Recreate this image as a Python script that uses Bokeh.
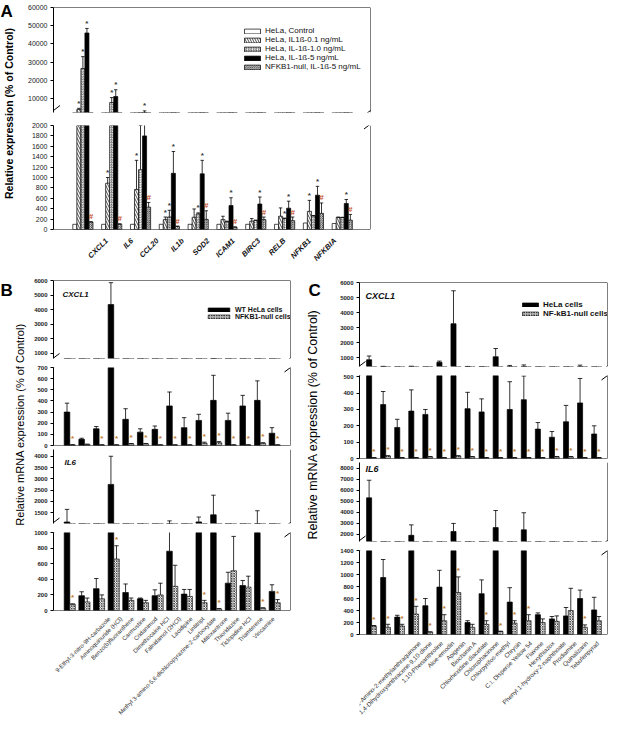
from math import pi
from bokeh.plotting import figure
from bokeh.layouts import row, column
from bokeh.models import (Span, Label, Arrow, Legend, LegendItem, FixedTicker)
from bokeh.core.properties import value
from bokeh.embed import file_html
from bokeh.resources import INLINE

FONT = "Liberation Sans"
MARK_BC = "#c27a30"
MARK_A_STAR = "#3a3a3a"
MARK_A_HASH = "#c4502a"

# ---------------- Panel A data ----------------
genes_A = ["CXCL1", "IL6", "CCL20", "IL1b", "SOD2", "ICAM1", "BIRC3", "RELB", "NFKB1", "NFKBIA"]
series_A = ["HeLa, Control", "HeLa, IL1\u00df-0.1 ng/mL", "HeLa, IL-1\u00df-1.0 ng/mL",
            "HeLa, IL-1\u00df-5 ng/mL", "NFKB1-null, IL-1\u00df-5 ng/mL"]
ctrl_A = [100, 100, 100, 100, 100, 100, 100, 100, 125, 115]
ctrl_err_A = [100, 100, 100, 100, 100, 100, 100, 100, 125, 115]
il01_A = [4000, 890, 770, 190, 235, 190, 160, 255, 350, 230]
il01_err_A = [4600, 1000, 1330, 240, 395, 255, 210, 415, 560, 240]
il10_A = [26500, 7800, 1150, 240, 300, 150, 175, 210, 260, 230]
il10_err_A = [33000, 10500, 2000, 370, 320, 160, 180, 220, 270, 235]
il5_A = [46000, 11100, 1800, 1080, 1070, 460, 490, 410, 660, 500]
il5_err_A = [48500, 14800, 3200, 1500, 1330, 610, 625, 545, 830, 577]
null_A = [145, 100, 430, 60, 195, 45, 190, 170, 310, 180]
null_err_A = [150, 110, 520, 65, 360, 50, 240, 240, 510, 290]
marks_ctrl_A = ["", "", "", "", "", "", "", "", "", ""]
marks_01_A = ["*", "*", "*", "*", "", "", "", "", "*", ""]
marks_10_A = ["*", "*", "*", "*", "*", "", "", "*", "", ""]
marks_5_A = ["*", "*", "*", "*", "*", "*", "*", "*", "*", "*"]
marks_null_A = ["#", "#", "#", "#", "#", "#", "#", "#", "#", "#"]
yticks_A_top = [10000, 20000, 30000, 40000, 50000, 60000]
yticks_A_bot = [0, 200, 400, 600, 800, 1000, 1200, 1400, 1600, 1800, 2000]

# ---------------- Panel B data ----------------
compounds_B = ["9-Ethyl-3-nitro-9H-carbazole", "Aminoquinuride (HCl)", "Benzo(b)fluoranthene",
               "Carmustine", "Cridanimod", "Dimethocaine HCl", "Falnidamol (2HCl)", "Lacidipine",
               "Lintitript", "Methyl 3-amino-5,6-dichloropyrazine-2-carboxylate", "Mitoxantrone",
               "Thioridazine", "Ticlopidine HCl", "Triamterene", "Vincamine"]
b_cxcl1_wt = [300, 55, 150, 4350, 235, 120, 145, 355, 160, 225, 405, 225, 355, 405, 110]
b_cxcl1_wt_err = [380, 65, 170, 5850, 330, 150, 175, 480, 250, 280, 630, 290, 450, 580, 160]
b_cxcl1_null = [5, 10, 5, 5, 15, 15, 5, 5, 5, 20, 25, 5, 5, 20, 5]
b_cxcl1_null_err = [8, 12, 7, 7, 18, 18, 7, 7, 7, 30, 35, 7, 7, 25, 7]
b_cxcl1_marks = ["*", "", "*", "*", "*", "*", "*", "*", "*", "*", "*", "*", "*", "*", "*"]
b_il6_wt = [1080, 190, 280, 2750, 230, 150, 190, 760, 210, 1085, 1400, 350, 320, 1000, 245]
b_il6_wt_err = [1640, 240, 410, 4000, 340, 160, 265, 1130, 270, 1300, 2270, 490, 385, 1580, 330]
b_il6_null = [80, 110, 150, 660, 130, 100, 200, 310, 180, 100, 20, 510, 300, 30, 100]
b_il6_null_err = [85, 160, 200, 830, 160, 130, 350, 580, 270, 130, 25, 950, 440, 35, 140]
b_il6_marks = ["*", "", "", "*", "", "", "", "", "", "*", "*", "", "", "*", "*"]
legend_B = ["WT HeLa cells", "NFKB1-null cells"]

# ---------------- Panel C data ----------------
compounds_C = ["1-Amino-2-methylanthraquinone", "1,4-Dihydroxyanthracene-9,10-dione",
               "1,10-Phenanthroline", "Aloe-emodin", "Apigenin", "Biochanin A",
               "Chlorhexidine diacetate", "Chlorophacinone", "Chlorpyrifos-methyl", "Chrysin",
               "C.I. Disperse Yellow 54", "Flavone", "Hexythiazox",
               "Phenyl 1-hydroxy-2-naphthoate", "Prodiamine", "Quinalizarin", "Tebufenpyrad"]
c_cxcl1_wt = [850, 330, 190, 290, 270, 680, 3250, 305, 285, 1050, 300, 360, 180, 130, 225, 340, 150]
c_cxcl1_wt_err = [1100, 410, 240, 420, 300, 760, 5450, 405, 365, 1600, 470, 505, 220, 165, 325, 490, 200]
c_cxcl1_null = [5, 15, 5, 5, 10, 5, 15, 10, 5, 5, 5, 5, 5, 10, 10, 5, 5]
c_cxcl1_null_err = [6, 17, 6, 6, 12, 6, 17, 12, 6, 6, 6, 6, 6, 12, 12, 6, 6]
c_cxcl1_marks = ["*", "*", "*", "*", "*", "*", "*", "*", "*", "*", "*", "*", "*", "*", "*", "*", "*"]
c_il6_wt = [5300, 950, 290, 1900, 480, 790, 2250, 200, 680, 2600, 540, 2400, 330, 260, 310, 600, 410]
c_il6_wt_err = [6900, 1250, 320, 2850, 600, 1070, 2980, 230, 910, 4150, 780, 3950, 360, 300, 450, 740, 620]
c_il6_null = [140, 120, 140, 340, 40, 230, 700, 120, 170, 50, 190, 230, 200, 220, 400, 120, 230]
c_il6_null_err = [150, 170, 170, 470, 45, 330, 960, 170, 230, 55, 230, 330, 260, 310, 770, 160, 300]
c_il6_marks = ["*", "*", "*", "*", "*", "*", "*", "", "*", "*", "*", "*", "", "", "", "*", ""]
legend_C = ["HeLa cells", "NF-kB1-null cells"]


# ---------------- helpers ----------------
def make_fig(canvas, frame, xr, yr, yticks, tsize, tstyle):
    CX, CY, CW, CH = canvas
    FL, FT, FW, FH = frame
    p = figure(width=CW, height=CH, x_range=xr, y_range=yr, output_backend="svg",
               toolbar_location=None, x_axis_location=None, y_axis_location="left",
               min_border_left=FL - CX, min_border_top=FT - CY,
               min_border_right=CX + CW - FL - FW, min_border_bottom=CY + CH - FT - FH)
    p.grid.visible = False
    p.outline_line_color = None
    ax = p.yaxis[0]
    ax.ticker = FixedTicker(ticks=yticks)
    ax.minor_tick_line_color = None
    ax.major_tick_in = 0
    ax.major_tick_out = 3
    ax.major_tick_line_color = "black"
    ax.axis_line_color = "black"
    ax.major_label_text_font = FONT
    ax.major_label_text_font_size = tsize
    ax.major_label_text_font_style = tstyle
    ax.major_label_text_color = "#222222"
    ax.major_label_standoff = 3
    p.add_layout(Span(location=xr[1], dimension="height", line_color="black", line_width=1))
    g = dict(CX=CX, CY=CY, FL=FL, FT=FT, FW=FW, FH=FH, xr=xr, yr=yr)
    return p, g


def dxp(g, X):
    return g["xr"][0] + (X - g["FL"]) / g["FW"] * (g["xr"][1] - g["xr"][0])


def dyp(g, Y):
    return g["yr"][1] - (Y - g["FT"]) / g["FH"] * (g["yr"][1] - g["yr"][0])


def upx(g, n):
    return n / g["FH"] * (g["yr"][1] - g["yr"][0])


def seg(p, g, X0, Y0, X1, Y1):
    p.add_layout(Arrow(end=None, x_start=X0 - g["CX"], y_start=Y0 - g["CY"],
                       x_end=X1 - g["CX"], y_end=Y1 - g["CY"],
                       start_units="canvas", end_units="canvas",
                       line_color="black", line_width=1))


def slash(p, g, cx, cy, hw=6, hh=4.5):
    seg(p, g, cx - hw, cy + hh, cx + hw, cy - hh)


def hline(p, yv):
    p.add_layout(Span(location=yv, dimension="width", line_color="black", line_width=1))


def bars(p, xs, vals, errs, width, cap, style):
    r = p.vbar(x=xs, top=vals, width=width, **style)
    ex, ev, ee = [], [], []
    for x, v, e in zip(xs, vals, errs):
        if e > v:
            ex.append(x); ev.append(v); ee.append(e)
    if ex:
        p.segment(x0=ex, y0=ev, x1=ex, y1=ee, line_color="black", line_width=0.8)
        p.segment(x0=[x - cap for x in ex], y0=ee, x1=[x + cap for x in ex], y1=ee,
                  line_color="black", line_width=0.8)
    return r


def marks(p, g, xs, vals, errs, mk, colors, size, gap):
    k = upx(g, gap)
    lo, hi = g["yr"]
    mx, my, mt, mc = [], [], [], []
    for x, v, e, m, c in zip(xs, vals, errs, mk, colors):
        top = max(v, e)
        y = top + k
        if m and lo <= top and y <= hi - upx(g, 2):
            mx.append(x); my.append(y); mt.append(m); mc.append(c)
    if mx:
        p.text(x=mx, y=my, text=mt, text_color=mc, text_font=value(FONT),
               text_font_size=size, text_font_style="bold", text_align="center",
               text_baseline="middle")


def blank_fig(w, h, xr, yr):
    p = figure(width=w, height=h, x_range=xr, y_range=yr, output_backend="svg",
               toolbar_location=None, x_axis_location=None, y_axis_location=None,
               min_border=0, min_border_left=0, min_border_right=0,
               min_border_top=0, min_border_bottom=0)
    p.grid.visible = False
    p.outline_line_color = None
    return p


def cat_fig(g, canvas, names, dx, anchor_Y, size, style, color):
    CX, CY, CW, CH = canvas
    p = blank_fig(CW, CH, (dxp(g, CX), dxp(g, CX + CW)), (0, CH))
    n = len(names)
    y = CH - (anchor_Y - CY)
    p.text(x=[i + dx for i in range(n)], y=[y] * n, text=names, angle=pi / 4,
           text_align="right", text_baseline="middle", text_font=value(FONT),
           text_font_size=size, text_font_style=style, text_color=color)
    return p


def legend_style(lg, size, gw, gh):
    lg.label_text_font = FONT
    lg.label_text_font_size = size
    lg.label_text_color = "#111111"
    lg.glyph_width = gw
    lg.glyph_height = gh
    lg.label_height = 7
    lg.spacing = 0
    lg.padding = 0
    lg.margin = 0
    lg.label_standoff = 3
    lg.background_fill_alpha = 0
    lg.border_line_alpha = 0


WHITE = dict(fill_color="white", line_color="black", line_width=0.7)
BLACK = dict(fill_color="black", line_color="black", line_width=0.7)

# ---------------- Panel A ----------------
xr_A = (-1.02, 9.98)
A_top, gAt = make_fig((28, 8, 360, 118), (61, 15, 317, 105), xr_A, (2300, 60000), yticks_A_top, "7px", "normal")
A_bot, gAb = make_fig((28, 126, 360, 115), (61, 133, 317, 104), xr_A, (0, 2000), yticks_A_bot, "7px", "normal")
hline(A_top, 60000)
hline(A_bot, 0)

offs_A = [-0.28, -0.14, 0.0, 0.14, 0.28]
styles_A = [
    WHITE,
    dict(WHITE, hatch_pattern="left_diagonal_line", hatch_scale=5, hatch_weight=0.7, hatch_color="black"),
    dict(WHITE, hatch_pattern="right_diagonal_line", hatch_scale=2.5, hatch_weight=0.7, hatch_color="#333333"),
    BLACK,
    dict(WHITE, hatch_pattern="left_diagonal_line", hatch_scale=2.2, hatch_weight=0.7, hatch_color="#333333"),
]
vals_A = [ctrl_A, il01_A, il10_A, il5_A, null_A]
errs_A = [ctrl_err_A, il01_err_A, il10_err_A, il5_err_A, null_err_A]
marks_A = [marks_ctrl_A, marks_01_A, marks_10_A, marks_5_A, marks_null_A]
leg_renderers = []
for p, g in ((A_top, gAt), (A_bot, gAb)):
    for k in range(5):
        xs = [i + offs_A[k] for i in range(len(genes_A))]
        r = bars(p, xs, vals_A[k], errs_A[k], 0.14, 0.06, styles_A[k])
        cols = [MARK_A_HASH if m == "#" else MARK_A_STAR for m in marks_A[k]]
        marks(p, g, xs, vals_A[k], errs_A[k], marks_A[k], cols, "8px", 5)
        if p is A_top:
            leg_renderers.append(r)
legA = Legend(items=[LegendItem(label=series_A[k], renderers=[leg_renderers[k]]) for k in range(5)],
              location=(189, 41))
legend_style(legA, "8px", 20, 6)
A_top.add_layout(legA)
A_lab = cat_fig(gAb, (28, 241, 360, 39), genes_A, -0.07, 247, "7.5px", "bold italic", "#111111")
# break marks
slash(A_top, gAt, 61, 118, 6.5, 5); slash(A_top, gAt, 378, 118, 6.5, 5)
slash(A_bot, gAb, 61, 131.5, 6.5, 5); slash(A_bot, gAb, 378, 131.5, 6.5, 5)

labA = blank_fig(20, 272, (0, 20), (0, 272))
labA.add_layout(Label(x=0, y=271, text="A", text_font=FONT, text_font_size="17px",
                      text_font_style="bold", text_baseline="top", text_align="left", text_color="black"))
labA.add_layout(Label(x=8, y=159, text="Relative expression (% of Control)", angle=pi / 2,
                      text_font=FONT, text_font_size="10.5px", text_font_style="bold",
                      text_align="center", text_baseline="middle", text_color="black"))


# ---------------- Panels B and C ----------------
def panel(figspecs, labcanvas, xr, names, wt_sets, null_sets, off, width, cap, gene_pos, gene_size,
          leg_names, leg_loc, leg_size, leg_gw, tick_size, lab_size, lab_dx, lab_Y):
    figs = []
    for (canvas, frame, yr, yticks) in figspecs:
        figs.append(make_fig(canvas, frame, xr, yr, yticks, tick_size, "bold"))
    n = len(names)
    xw = [i - off for i in range(n)]
    xn = [i + off for i in range(n)]
    null_style = dict(WHITE, hatch_pattern="diagonal_cross", hatch_scale=2.5, hatch_weight=0.8,
                      hatch_color="#333333", line_width=0.6)
    leg_r = []
    for idx, (p, g) in enumerate(figs):
        gi = 0 if idx < 2 else 1
        wv, we = wt_sets[gi]
        nv, ne, mk = null_sets[gi]
        r1 = bars(p, xw, wv, we, width, cap, BLACK)
        r2 = bars(p, xn, nv, ne, width, cap, null_style)
        marks(p, g, xn, nv, ne, mk, [MARK_BC] * n, "8px", 6)
        if idx == 0:
            leg_r = [r1, r2]
    (p1, g1), (p2, g2), (p3, g3), (p4, g4) = figs
    hline(p1, g1["yr"][1]); hline(p2, 0); hline(p4, 0)
    lg = Legend(items=[LegendItem(label=leg_names[0], renderers=[leg_r[0]]),
                       LegendItem(label=leg_names[1], renderers=[leg_r[1]])], location=leg_loc)
    legend_style(lg, leg_size, leg_gw, 5)
    lg.label_text_font_style = "bold"
    p1.add_layout(lg)
    p1.add_layout(Label(x=dxp(g1, gene_pos[0][0]), y=dyp(g1, gene_pos[0][1]), text="CXCL1",
                        text_font=FONT, text_font_size=gene_size, text_font_style="bold italic",
                        text_baseline="top", text_align="left", text_color="#111111"))
    p3.add_layout(Label(x=dxp(g3, gene_pos[1][0]), y=dyp(g3, gene_pos[1][1]), text="IL6",
                        text_font=FONT, text_font_size=gene_size, text_font_style="bold italic",
                        text_baseline="top", text_align="left", text_color="#111111"))
    plab = cat_fig(g4, labcanvas, names, lab_dx, lab_Y, lab_size, "normal", "#333333")
    L = g1["FL"]; R = g1["FL"] + g1["FW"]
    # gap lines between CXCL1 lower and IL6 upper
    yb2 = g2["FT"] + g2["FH"]
    seg(p2, g2, L, yb2, L, yb2 + 5); seg(p2, g2, R, yb2, R, yb2 + 5)
    # break marks
    yb1 = g1["FT"] + g1["FH"]
    slash(p1, g1, L, yb1 - 0.5); slash(p1, g1, R, yb1 - 0.5)
    slash(p2, g2, L, g2["FT"]); slash(p2, g2, R, g2["FT"])
    yb3 = g3["FT"] + g3["FH"]
    slash(p3, g3, L, yb3 - 1); slash(p3, g3, R, yb3 - 1)
    slash(p4, g4, L, g4["FT"]); slash(p4, g4, R, g4["FT"])
    return [f[0] for f in figs] + [plab]


xr_B = (-1.113, 15.075)
specB = [((35, 280, 269, 90), (61, 288, 237, 78), (656, 6000), [1000, 2000, 3000, 4000, 5000, 6000]),
         ((35, 370, 269, 87), (61, 375, 237, 78), (0, 700), [0, 100, 200, 300, 400, 500, 600, 700]),
         ((35, 457, 269, 78), (61, 457, 237, 74), (1013, 4300), [1500, 2000, 2500, 3000, 3500, 4000]),
         ((8, 535, 296, 88), (61, 540, 237, 78), (0, 1000), [0, 200, 400, 600, 800, 1000])]
B1, B2, B3, B4, B5 = panel(specB, (8, 623, 296, 100), xr_B, compounds_B,
                           [(b_cxcl1_wt, b_cxcl1_wt_err), (b_il6_wt, b_il6_wt_err)],
                           [(b_cxcl1_null, b_cxcl1_null_err, b_cxcl1_marks),
                            (b_il6_null, b_il6_null_err, b_il6_marks)],
                           0.19, 0.38, 0.15, [(70, 297), (72, 465.5)], "8px",
                           legend_B, (152, 38), "7px", 27, "6px", "6px", 0.05, 625.5)

xr_C = (-0.853, 16.78)
specC = [((330, 280, 287, 98), (367, 290, 248, 84), (400, 6000), [1000, 2000, 3000, 4000, 5000, 6000]),
         ((330, 378, 287, 92), (367, 383, 248, 83), (0, 508), [0, 100, 200, 300, 400, 500]),
         ((330, 470, 287, 83), (367, 470, 248, 79), (1340, 8510), [2000, 3000, 4000, 5000, 6000, 7000, 8000]),
         ((304, 553, 313, 94), (367, 558, 248, 84), (0, 1400), [0, 200, 400, 600, 800, 1000, 1200, 1400])]
C1, C2, C3, C4, C5 = panel(specC, (304, 647, 313, 76), xr_C, compounds_C,
                           [(c_cxcl1_wt, c_cxcl1_wt_err), (c_il6_wt, c_il6_wt_err)],
                           [(c_cxcl1_null, c_cxcl1_null_err, c_cxcl1_marks),
                            (c_il6_null, c_il6_null_err, c_il6_marks)],
                           0.17, 0.36, 0.16, [(373, 298), (373, 471.5)], "9px",
                           legend_C, (161, 48), "8px", 20, "6px", "6.2px", 0.05, 649.5)

labB = blank_fig(27, 255, (0, 27), (0, 255))
labB.add_layout(Label(x=0, y=255 - 8, text="B", text_font=FONT, text_font_size="17px",
                      text_font_style="bold", text_baseline="top", text_align="left", text_color="black"))
labB.add_layout(Label(x=19, y=535 - 432, text="Relative mRNA expression (% of Control)", angle=pi / 2,
                      text_font=FONT, text_font_size="11px", text_align="center",
                      text_baseline="middle", text_color="black"))
labC = blank_fig(26, 273, (0, 26), (0, 273))
labC.add_layout(Label(x=12, y=273 - 8, text="C", text_font=FONT, text_font_size="17px",
                      text_font_style="bold", text_baseline="top", text_align="left", text_color="black"))
labC.add_layout(Label(x=16, y=553 - 432, text="Relative mRNA expression (% of Control)", angle=pi / 2,
                      text_font=FONT, text_font_size="12.5px", text_align="center",
                      text_baseline="middle", text_color="black"))

rowA = row(labA, column(A_top, A_bot, A_lab))
colB = column(row(labB, column(B1, B2, B3)), B4, B5)
colC = column(row(labC, column(C1, C2, C3)), C4, C5)
layout = column(rowA, row(colB, colC))

open("out.html", "w").write(file_html(layout, INLINE))
